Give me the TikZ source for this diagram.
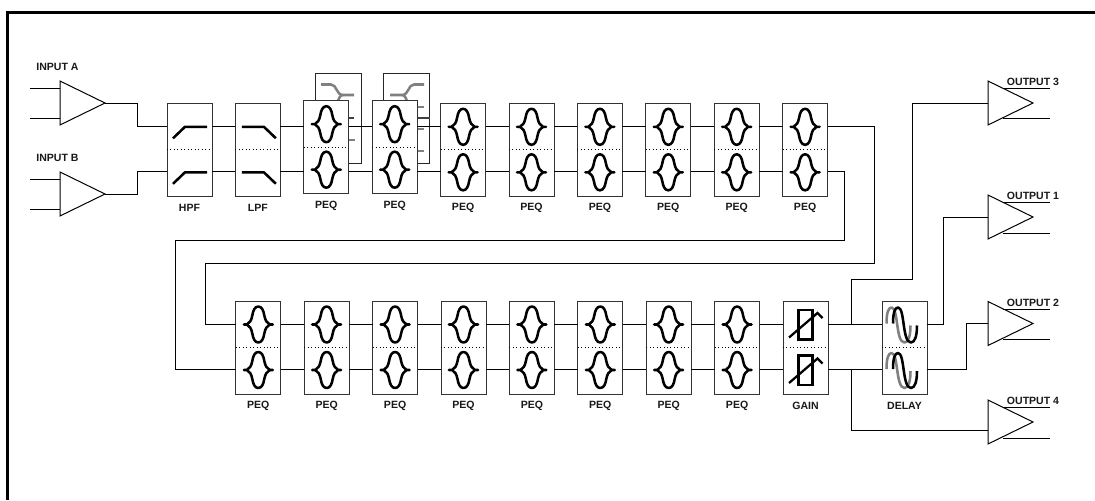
\documentclass[tikz,border=0pt]{standalone}
\usepackage{fontspec}
\setmainfont{Liberation Sans}
\usetikzlibrary{shapes.geometric,calc}
\tikzset{
  x=0.75pt,y=-0.75pt,
  wire/.style={black,line width=0.75pt,line join=miter},
  blk/.style={draw=black!80,fill=white,line width=0.7pt,minimum width=33.75pt,minimum height=69.75pt,inner sep=0pt,outer sep=0pt},
  backblk/.style={draw=black!85,fill=white,line width=0.7pt,minimum width=34.5pt,minimum height=67.5pt,inner sep=0pt,outer sep=0pt},
  divider/.style={black,line width=0.6pt,dotted},
  icon/.style={black,line width=1.9pt,line cap=butt,line join=round},
  gicon/.style={black!50,line width=1.9pt,line join=round},
  thinicon/.style={black,line width=1.7pt,line join=miter},
  lab/.style={font=\bfseries\fontsize{7.9pt}{9pt}\selectfont,inner sep=0pt,text=black!90},
  amp/.style={draw=black,fill=white,line width=0.75pt,isosceles triangle,isosceles triangle apex angle=52,isosceles triangle stretches,minimum width=33pt,minimum height=33.75pt,inner sep=0pt,outer sep=0pt,anchor=apex},
  frameline/.style={black,line width=2.4pt,line cap=butt,line join=miter}
}
% icons, placed at the centre of the half of a block
\newcommand\ichp[2]{\draw[icon] (#1-16.5,#2+11.5) -- (#1-4.5,#2) -- (#1+17.5,#2);}
\newcommand\iclp[2]{\draw[icon] (#1-16,#2) -- (#1+6,#2) -- (#1+18,#2+11.5);}
\newcommand\icpeq[2]{\draw[icon] (#1-14.5,#2) -- (#1-11.5,#2)
  .. controls (#1-8.5,#2-1.5) and (#1-7,#2-4) .. (#1-6,#2-9)
  .. controls (#1-5.2,#2-14) and (#1-3.5,#2-18) .. (#1,#2-18)
  .. controls (#1+3.5,#2-18) and (#1+5.2,#2-14) .. (#1+6,#2-9)
  .. controls (#1+7,#2-4) and (#1+8.5,#2-1.5) .. (#1+11.5,#2) -- (#1+14.5,#2) -- (#1+11.5,#2)
  .. controls (#1+8.5,#2+1.5) and (#1+7,#2+4) .. (#1+6,#2+9)
  .. controls (#1+5.2,#2+14) and (#1+3.5,#2+18) .. (#1,#2+18)
  .. controls (#1-3.5,#2+18) and (#1-5.2,#2+14) .. (#1-6,#2+9)
  .. controls (#1-7,#2+4) and (#1-8.5,#2+1.5) .. (#1-11.5,#2) -- cycle;}
\newcommand\icgain[2]{\draw[thinicon] (#1-7,#2-14.5) rectangle (#1+7,#2+15);
  \draw[thinicon] (#1-16.5,#2+13) -- (#1+12,#2-11.5) -- (#1+17,#2-6.5);}
\newcommand\sinecurve[3]{\draw[#3] (#1-11.5,#2-1) .. controls (#1-11.5,#2-12) and (#1-9.5,#2-17) .. (#1-6.5,#2-17) .. controls (#1+0.5,#2-17) and (#1-2.5,#2+18) .. (#1+6.5,#2+18) .. controls (#1+10.5,#2+18) and (#1+12.5,#2+11) .. (#1+12.5,#2+1);}
\newcommand\icdelay[2]{\sinecurve{#1-6.5}{#2}{gicon}\sinecurve{#1}{#2}{icon}}
% block: name, left x, top y, label, icon command, y of upper signal
\newcommand\blk[6]{%
  \node[blk] (#1) at (#2+22.5,#3+46.5) {};
  \draw[divider] (#1.west) -- (#1.east);
  #5{#2+22.5}{#3+23.5}
  #5{#2+22.5}{#3+69}
  \coordinate (#1-ai) at (#2,#6);
  \coordinate (#1-ao) at (#2+45,#6);
  \coordinate (#1-bi) at (#2,#6+45.5);
  \coordinate (#1-bo) at (#2+45,#6+45.5);
  \node[lab] (#1-lab) at (#2+22.5,#3+105) {#4};
}
\begin{document}
\begin{tikzpicture}
\useasboundingbox (0,0) rectangle (1095,500);
\fill[white] (0,0) rectangle (1095,500);
% frame
\coordinate (fa) at (7.5,500);
\coordinate (fb) at (7.5,12.5);
\coordinate (fc) at (1095,12.5);
\draw[frameline] (fa) -- (fb) -- (fc);
% blocks standing behind the two first PEQ
\node[backblk] (back1) at (338.3,118) {};
\draw[gicon] (321,84.5) -- (331,84.5) .. controls (337,84.5) and (336,95) .. (343,95) -- (354,95);
\draw[gicon] (343,95) .. controls (340,95) and (339,98) .. (337,104);
\draw[gicon,black!75] (345,118) -- (354,118);
\draw[gicon] (345,140) -- (354.5,140);
\node[backblk] (back2) at (406.5,118) {};
\draw[gicon] (424,84.5) -- (414,84.5) .. controls (408,84.5) and (409,95) .. (402,95) -- (390,95);
\draw[gicon] (402,95) .. controls (405,95) and (406,98) .. (408,104);
\draw[gicon] (415,107) -- (424,107);
\draw[gicon,black!75] (415,118) -- (429.5,118);
\draw[gicon] (415,129) -- (424,129);
\draw[gicon] (415,151) -- (424,151);
% upper row
\blk{hpf}{167}{103.3}{HPF}{\ichp}{126}
\blk{lpf}{235.4}{103.3}{LPF}{\iclp}{126}
\blk{pa}{303.8}{100.7}{PEQ}{\icpeq}{126}
\blk{pb}{372.2}{100.7}{PEQ}{\icpeq}{126}
\blk{pc}{440.6}{103.3}{PEQ}{\icpeq}{126}
\blk{pd}{509}{103.3}{PEQ}{\icpeq}{126}
\blk{pe}{577.4}{103.3}{PEQ}{\icpeq}{126}
\blk{pf}{645.8}{103.3}{PEQ}{\icpeq}{126}
\blk{pg}{714.2}{103.3}{PEQ}{\icpeq}{126}
\blk{ph}{782.6}{103.3}{PEQ}{\icpeq}{126}
% lower row
\blk{qa}{235.8}{301}{PEQ}{\icpeq}{324}
\blk{qb}{304.2}{301}{PEQ}{\icpeq}{324}
\blk{qc}{372.6}{301}{PEQ}{\icpeq}{324}
\blk{qd}{441}{301}{PEQ}{\icpeq}{324}
\blk{qe}{509.4}{301}{PEQ}{\icpeq}{324}
\blk{qf}{577.8}{301}{PEQ}{\icpeq}{324}
\blk{qg}{646.2}{301}{PEQ}{\icpeq}{324}
\blk{qh}{714.6}{301}{PEQ}{\icpeq}{324}
\blk{gain}{783}{301}{GAIN}{\icgain}{324}
\blk{dly}{882}{301}{DELAY}{\icdelay}{324}
% amplifiers
\node[amp] (ina) at (105,103) {};
\node[amp] (inb) at (105,194) {};
\node[amp] (out3) at (1033,103) {};
\node[amp] (out1) at (1033,217) {};
\node[amp] (out2) at (1033,323.5) {};
\node[amp] (out4) at (1033,422) {};
\node[lab] (la) at (57.5,67) {INPUT A};
\node[lab] (lb) at (57.5,158) {INPUT B};
\node[lab] (lo3) at (1033,82) {OUTPUT 3};
\node[lab] (lo1) at (1033,196) {OUTPUT 1};
\node[lab] (lo2) at (1033,303) {OUTPUT 2};
\node[lab] (lo4) at (1033,401) {OUTPUT 4};
% free ends of input and output stubs
\foreach \n/\y in {a1/88,a2/118,b1/179.5,b2/209.5}{\coordinate (s\n) at (30,\y);}
\draw[wire] (sa1) -- (sa1 -| ina.lower side);
\draw[wire] (sa2) -- (sa2 -| ina.lower side);
\draw[wire] (sb1) -- (sb1 -| inb.lower side);
\draw[wire] (sb2) -- (sb2 -| inb.lower side);
\foreach \n/\u/\v in {out3/88/118.5,out1/202.5/233,out2/309/339,out4/407.5/438}{
  \coordinate (\n-p) at (1002.5,\u); \coordinate (\n-q) at (1050,\u);
  \coordinate (\n-r) at (1002.5,\v); \coordinate (\n-s) at (1050,\v);
  \draw[wire] (\n-p) -- (\n-q);
  \draw[wire] (\n-r) -- (\n-s);
}
% connectors
\draw[wire] (ina.apex) -- ++(32,0) |- (hpf-ai);
\draw[wire] (inb.apex) -- ++(32,0) |- (hpf-bi);
\foreach \a/\b in {hpf/lpf,lpf/pa,pa/pb,pb/pc,pc/pd,pd/pe,pe/pf,pf/pg,pg/ph,
                   qa/qb,qb/qc,qc/qd,qd/qe,qe/qf,qf/qg,qg/qh,qh/gain,gain/dly}{
  \draw[wire] (\a-ao) -- (\b-ai);
  \draw[wire] (\a-bo) -- (\b-bi);
}
\draw[wire] (ph-ao) -- (874,126) -- (874,263) -- (205,263) |- (qa-ai);
\draw[wire] (ph-bo) -- (844,171.5) -- (844,240) -- (175,240) |- (qa-bi);
\coordinate (tapa) at (851.5,324);
\coordinate (tapb) at (851.5,369.5);
\coordinate (out4-in) at (988,430.5);
\draw[wire] (tapa) -- (851.5,279) -- (912,279) |- (out3.lower side);
\draw[wire] (tapb) |- (out4-in);
\draw[wire] (dly-ao) -- (943,324) |- (out1.lower side);
\draw[wire] (dly-bo) -- (966,369.5) |- (out2.lower side);
\end{tikzpicture}
\end{document}
